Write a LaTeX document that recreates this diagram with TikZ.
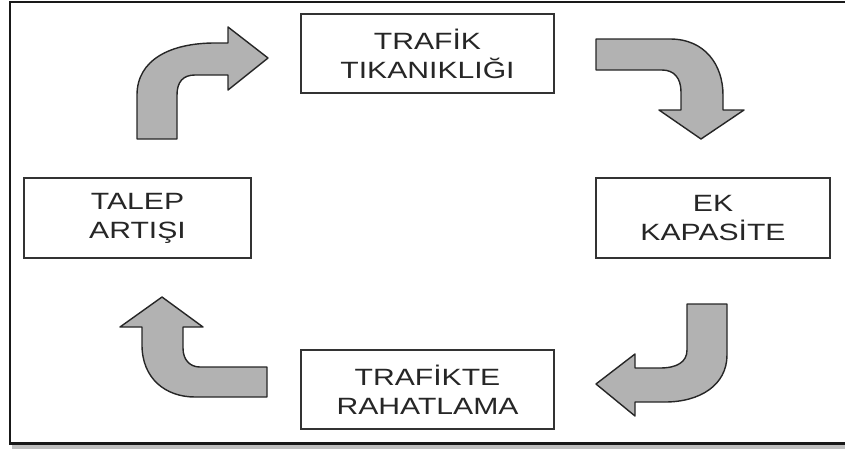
\documentclass[tikz,border=0pt]{standalone}
\usepackage{fontspec}
\setmainfont{Liberation Sans}[FakeStretch=1.28]
\begin{document}
\begin{tikzpicture}[x=0.02cm,y=-0.02cm,
	kutu/.style={draw=black!80,line width=1.1pt,fill=white,align=center,inner sep=0pt,
		text=black!85,font=\fontsize{13.4}{16.4}\selectfont},
	ok/.style={draw=black!85,line width=0.8pt,fill=black!30,line join=round}]
	\useasboundingbox (0,0) rectangle (845,450);
	%Cerceve
	\fill[black!25] (12,443) rectangle (850,449);
	\draw[line width=1.7pt,black!90] (10,2) rectangle (855,443);
	%Kutu 1
	\node[kutu,minimum width=5.06cm,minimum height=1.58cm] (tikanik) at (427.5,53.5) {TRAF\.IK\\TIKANIKLIĞI};
	%Kutu 2
	\node[kutu,minimum width=4.68cm,minimum height=1.6cm] (kapasite) at (713,218) {EK\\KAPAS\.ITE};
	%Kutu 3
	\node[kutu,minimum width=5.06cm,minimum height=1.58cm] (rahat) at (427.5,389.5) {TRAF\.IKTE\\RAHATLAMA};
	%Kutu 4
	\node[kutu,minimum width=4.54cm,minimum height=1.6cm] (talep) at (137.5,218) {TALEP\\ARTIŞI};
	%Ok 1
	\draw[ok] (137,139) -- (137,95) .. controls (137,60) and (170,43) .. (215,43) -- (228,43)
		-- (228,27) -- (268,58) -- (228,90) -- (228,75) -- (195,75)
		.. controls (183,75) and (177,82) .. (177,95) -- (177,139) -- cycle;
	%Ok 2
	\draw[ok] (596,39) -- (670,39) .. controls (705,39) and (723,65) .. (723,95) -- (723,110)
		-- (744,110) -- (701,139) -- (659,110) -- (681,110) -- (681,92)
		.. controls (681,78) and (674,70) .. (662,70) -- (596,70) -- cycle;
	%Ok 3
	\draw[ok] (687,304) -- (727,304) -- (727,355) .. controls (727,385) and (700,402) .. (665,402)
		-- (635,402) -- (635,416) -- (596,384) -- (635,354) -- (635,368) -- (660,368)
		.. controls (677,368) and (687,362) .. (687,350) -- cycle;
	%Ok 4
	\draw[ok] (267,367) -- (200,367) .. controls (190,367) and (183,360) .. (183,348) -- (183,327)
		-- (203,327) -- (162,297) -- (120,327) -- (142,327) -- (142,345)
		.. controls (142,378) and (165,397) .. (195,397) -- (267,397) -- cycle;
\end{tikzpicture}
\end{document}
